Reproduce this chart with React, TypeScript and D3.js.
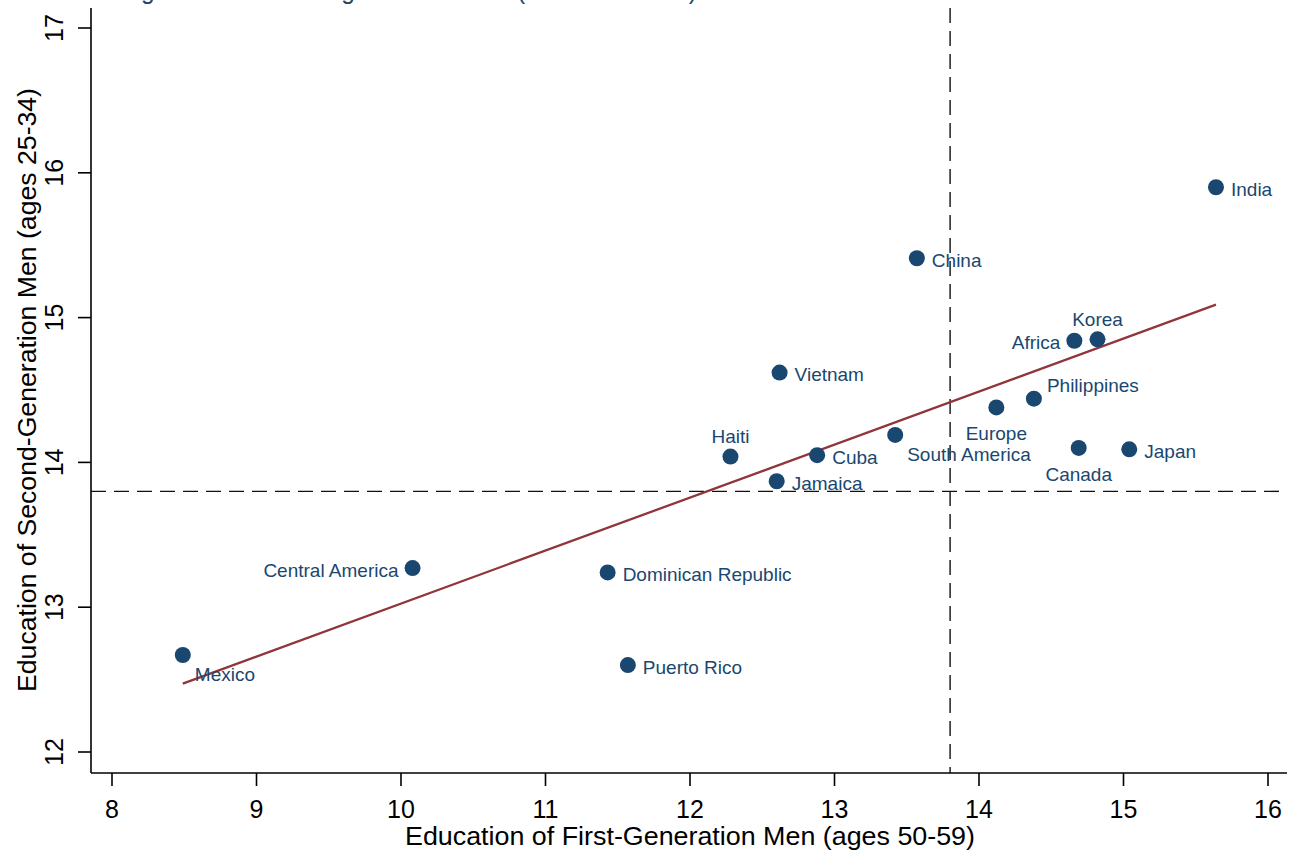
import * as d3 from "d3";
import React from "react";

// origin groups, first-generation (x) vs second-generation (y) years of schooling
const origins = [
  "India", "China", "Korea", "Africa", "Vietnam", "Philippines", "Europe",
  "South America", "Canada", "Japan", "Haiti", "Cuba", "Jamaica",
  "Central America", "Dominican Republic", "Mexico", "Puerto Rico",
];
const firstGen = [
  15.64, 13.57, 14.82, 14.66, 12.62, 14.38, 14.12,
  13.42, 14.69, 15.04, 12.28, 12.88, 12.60,
  10.08, 11.43, 8.49, 11.57,
];
const secondGen = [
  15.90, 15.41, 14.85, 14.84, 14.62, 14.44, 14.38,
  14.19, 14.10, 14.09, 14.04, 14.05, 13.87,
  13.27, 13.24, 12.67, 12.60,
];
// marker label position, as a clock hour (like Stata's mlabvposition)
const labelClock = [3, 3, 12, 9, 3, 2, 6, 4, 6, 3, 12, 3, 3, 9, 3, 4, 3];

const xTicks = [8, 9, 10, 11, 12, 13, 14, 15, 16];
const yTicks = [12, 13, 14, 15, 16, 17];

// fitted line and reference (mean) lines
const fitIntercept = 9.365;
const fitSlope = 0.366;
const meanFirstGen = 13.8;
const meanSecondGen = 13.8;

const navy = "#1a476f";
const maroon = "#90353b";
const font = "'Liberation Sans', Arial, Helvetica, sans-serif";

const W = 1294;
const H = 854;

const labelOffset = (clock: number) => {
  switch (clock) {
    case 12: return { dx: 0, dy: -20, anchor: "middle" };
    case 6: return { dx: 0, dy: 26, anchor: "middle" };
    case 9: return { dx: -14, dy: 2, anchor: "end" };
    case 2: return { dx: 13, dy: -13, anchor: "start" };
    case 4: return { dx: 12, dy: 19, anchor: "start" };
    default: return { dx: 15, dy: 2, anchor: "start" };
  }
};

export default function App() {
  const x = d3.scaleLinear().domain([8, 16]).range([112, 1268]);
  const y = d3.scaleLinear().domain([12, 17]).range([752, 28]);

  const left = 91;
  const bottom = 773;
  const right = 1287;
  const top = 8;

  const points = origins.map((name, i) => ({
    name,
    fx: firstGen[i],
    sy: secondGen[i],
    clock: labelClock[i],
  }));

  const [xMin, xMax] = d3.extent(firstGen) as [number, number];
  const fitLine = d3.line<number>()
    .x(d => x(d))
    .y(d => y(fitIntercept + fitSlope * d));

  return (
    <svg width={W} height={H} style={{ position: "absolute", left: 0, top: 0, background: "white" }}
      fontFamily={font}>
      <rect width={W} height={H} fill="white" />

      {/* title, mostly above the visible area as in the source */}
      <text x={92} y={-1} fontSize={26} fill={navy} textLength={605} lengthAdjust="spacingAndGlyphs">
        Intergenerational Change in Education (1970 and 2000)
      </text>

      {/* reference lines */}
      <line x1={left} x2={right} y1={y(meanSecondGen)} y2={y(meanSecondGen)}
        stroke="#111" strokeWidth={1.4} strokeDasharray="15 8" />
      <line x1={x(meanFirstGen)} x2={x(meanFirstGen)} y1={top} y2={bottom}
        stroke="#111" strokeWidth={1.4} strokeDasharray="15 8" />

      {/* axes */}
      <line x1={left} x2={left} y1={top} y2={bottom} stroke="black" strokeWidth={1.6} />
      <line x1={left} x2={right} y1={bottom} y2={bottom} stroke="black" strokeWidth={1.6} />

      {xTicks.map(t => (
        <g key={`x${t}`} transform={`translate(${x(t)},0)`}>
          <line y1={bottom} y2={bottom + 13} stroke="black" strokeWidth={1.6} />
          <text y={818} textAnchor="middle" fontSize={25}>{t}</text>
        </g>
      ))}
      {yTicks.map(t => (
        <g key={`y${t}`} transform={`translate(0,${y(t)})`}>
          <line x1={left - 13} x2={left} stroke="black" strokeWidth={1.6} />
          <text transform="translate(63,0) rotate(-90)" textAnchor="middle" fontSize={25}>{t}</text>
        </g>
      ))}

      <text x={690} y={845} textAnchor="middle" fontSize={25}
        textLength={570} lengthAdjust="spacingAndGlyphs">
        Education of First-Generation Men (ages 50-59)
      </text>
      <text transform={`translate(36,${(752 + 28) / 2}) rotate(-90)`} textAnchor="middle" fontSize={25}
        textLength={604} lengthAdjust="spacingAndGlyphs">
        Education of Second-Generation Men (ages 25-34)
      </text>

      {/* fitted values */}
      <path d={fitLine([xMin, xMax]) ?? ""} fill="none" stroke={maroon} strokeWidth={2.3} />

      {/* markers and labels */}
      {points.map(p => {
        const o = labelOffset(p.clock);
        return (
          <g key={p.name} transform={`translate(${x(p.fx)},${y(p.sy)})`}>
            <circle r={8} fill={navy} />
            <text x={o.dx} y={o.dy} dy="0.35em" textAnchor={o.anchor} fontSize={19} fill={navy}>
              {p.name}
            </text>
          </g>
        );
      })}
    </svg>
  );
}
